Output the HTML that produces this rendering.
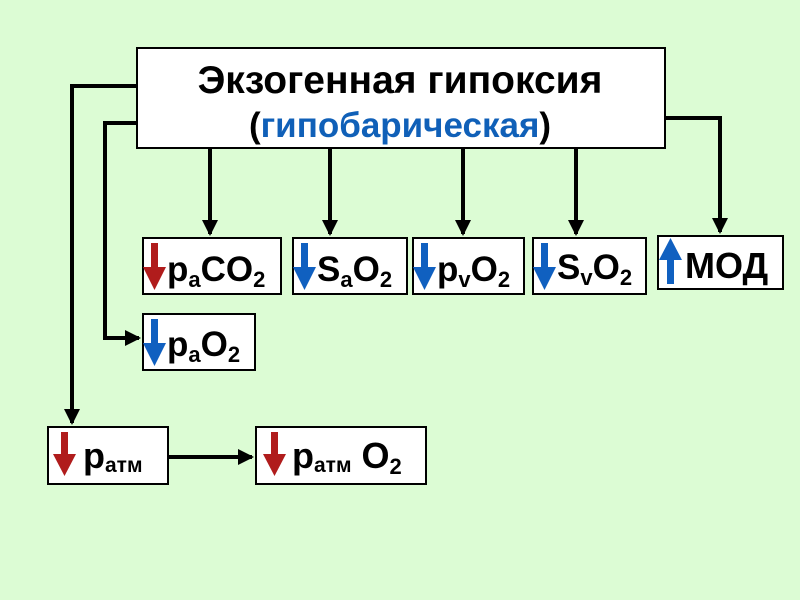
<!DOCTYPE html>
<html><head><meta charset="utf-8"><style>
body{margin:0;background:#dcfcd4;}
svg{display:block}
text{font-family:"Liberation Sans",sans-serif;font-weight:bold;fill:#000}
</style></head><body>
<svg width="800" height="600" viewBox="0 0 800 600">
<defs>
<marker id="ah" markerWidth="4" markerHeight="4" refX="3.5" refY="2" orient="auto" markerUnits="strokeWidth"><path d="M0,0 L4,2 L0,4Z" fill="#000"/></marker>
</defs>
<rect width="800" height="600" fill="#dcfcd4"/>
<g stroke="#000" stroke-width="4" fill="none">
<path d="M210,148 V234" marker-end="url(#ah)"/>
<path d="M330,148 V234" marker-end="url(#ah)"/>
<path d="M463,148 V234" marker-end="url(#ah)"/>
<path d="M576,148 V234" marker-end="url(#ah)"/>
<path d="M665,118 H720 V232" marker-end="url(#ah)"/>
<path d="M137,86 H72 V423" marker-end="url(#ah)"/>
<path d="M137,123 H105 V338 H139" marker-end="url(#ah)"/>
<path d="M168,457 H252" marker-end="url(#ah)"/>
</g>
<g fill="#fff" stroke="#000" stroke-width="2">
<rect x="137" y="48" width="528" height="100"/>
<rect x="143" y="238" width="138" height="56"/>
<rect x="293" y="238" width="114" height="56"/>
<rect x="413" y="238" width="111" height="56"/>
<rect x="533" y="238" width="113" height="56"/>
<rect x="658" y="236" width="125" height="53"/>
<rect x="143" y="314" width="112" height="56"/>
<rect x="48" y="427" width="120" height="57"/>
<rect x="256" y="427" width="170" height="57"/>
</g>
<text x="400" y="93" font-size="39" text-anchor="middle">Экзогенная гипоксия</text>
<text x="400" y="137" font-size="35" text-anchor="middle">(<tspan fill="#1060b8">гипобарическая</tspan>)</text>
<g>
<path d="M151,243 h7 v24 h8 l-11.5,23 l-11.5,-23 h8z" fill="#b01c1c"/>
<path d="M301,243 h7 v24 h8 l-11.5,23 l-11.5,-23 h8z" fill="#1060c0"/>
<path d="M421,243 h7 v24 h8 l-11.5,23 l-11.5,-23 h8z" fill="#1060c0"/>
<path d="M541,243 h7 v24 h8 l-11.5,23 l-11.5,-23 h8z" fill="#1060c0"/>
<path d="M667,284 h7 v-24 h8 l-11.5,-22 l-11.5,22 h8z" fill="#1060c0"/>
<path d="M151,319 h7 v24 h8 l-11.5,23 l-11.5,-23 h8z" fill="#1060c0"/>
<path d="M61,432 h7 v22 h8 l-11.5,22 l-11.5,-22 h8z" fill="#b01c1c"/>
<path d="M271,432 h7 v22 h8 l-11.5,22 l-11.5,-22 h8z" fill="#b01c1c"/>
</g>
<text x="167" y="281" font-size="35">p<tspan font-size="22" dy="6">a</tspan><tspan dy="-6">CO</tspan><tspan font-size="22" dy="6">2</tspan></text>
<text x="317" y="281" font-size="35">S<tspan font-size="22" dy="6">a</tspan><tspan dy="-6">O</tspan><tspan font-size="22" dy="6">2</tspan></text>
<text x="437" y="281" font-size="35">p<tspan font-size="22" dy="6">v</tspan><tspan dy="-6">O</tspan><tspan font-size="22" dy="6">2</tspan></text>
<text x="557" y="279" font-size="35">S<tspan font-size="22" dy="6">v</tspan><tspan dy="-6">O</tspan><tspan font-size="22" dy="6">2</tspan></text>
<text x="685" y="278" font-size="36">МОД</text>
<text x="167" y="356" font-size="35">p<tspan font-size="22" dy="6">a</tspan><tspan dy="-6">O</tspan><tspan font-size="22" dy="6">2</tspan></text>
<text x="83" y="468" font-size="36">p<tspan font-size="21" dy="4">атм</tspan></text>
<text x="292" y="468" font-size="36">p<tspan font-size="21" dy="4">атм</tspan><tspan dy="-4"> O</tspan><tspan font-size="22" dy="6">2</tspan></text>
</svg>
</body></html>
